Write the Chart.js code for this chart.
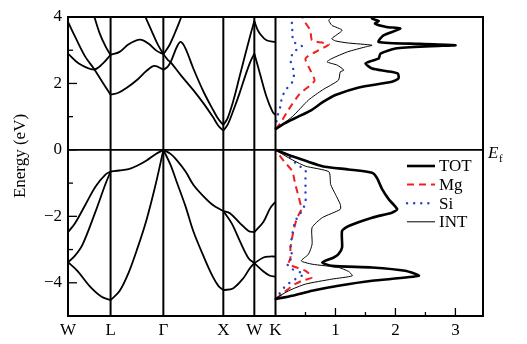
<!DOCTYPE html>
<html lang="en">
<head>
<meta charset="UTF-8">
<title>Mg2Si bands and DOS</title>
<script src="https://cdn.jsdelivr.net/npm/chart.js"></script>
<style>
  body { margin: 0; background: #fff; }
</style>
</head>
<body>
<canvas id="grafico" width="527" height="344"></canvas>
<script>
// high-symmetry points on the k path (same units as the DOS axis, K sits at 0)
const kLabels = ['W', 'L', 'Γ', 'X', 'W', 'K'];
const kPos = [-3.46, -2.75, -1.87, -0.87, -0.353, 0];
const yTicks = [4, 2, 0, -2, -4];
const dosTicks = [1, 2, 3];

// bands, one list of [k, E] per segment
const valenceBands = [
  [[-3.46, -2.48], [-3.34, -2.2], [-3.17, -1.65], [-3.0, -1.1], [-2.84, -0.75], [-2.75, -0.65]],
  [[-3.46, -3.38], [-3.35, -3.2], [-3.22, -2.86], [-3.0, -1.85], [-2.84, -1.05], [-2.75, -0.65]],
  [[-3.46, -3.38], [-3.3, -3.65], [-3.1, -4.1], [-2.9, -4.42], [-2.75, -4.52]],
  [[-2.75, -0.65], [-2.6, -0.62], [-2.45, -0.58], [-2.3, -0.47], [-2.15, -0.32], [-2.0, -0.13], [-1.87, 0]],
  [[-2.75, -4.52], [-2.6, -4.25], [-2.45, -3.7], [-2.3, -2.95], [-2.15, -2.1], [-2.0, -1.05], [-1.87, 0]],
  [[-1.87, 0], [-1.75, -0.12], [-1.65, -0.3], [-1.5, -0.65], [-1.37, -1.05], [-1.2, -1.4], [-1.05, -1.65], [-0.87, -1.84]],
  [[-1.87, 0], [-1.75, -0.45], [-1.65, -0.95], [-1.5, -1.7], [-1.37, -2.45], [-1.2, -3.2], [-1.05, -3.8], [-0.95, -4.1], [-0.87, -4.22]],
  [[-0.87, -1.84], [-0.76, -1.91], [-0.59, -2.21], [-0.45, -2.44], [-0.353, -2.48]],
  [[-0.87, -1.84], [-0.73, -2.21], [-0.59, -2.76], [-0.45, -3.26], [-0.353, -3.41]],
  [[-0.87, -4.22], [-0.71, -4.17], [-0.54, -3.87], [-0.43, -3.57], [-0.353, -3.41]],
  [[-0.353, -2.48], [-0.2, -2.16], [-0.09, -1.76], [0, -1.56]],
  [[-0.353, -3.41], [-0.2, -3.66], [-0.1, -3.78], [0, -3.82]],
  [[-0.353, -3.41], [-0.2, -3.24], [-0.1, -3.21], [0, -3.21]]
];

const conductionBands = [
  [[-3.46, 3.85], [-3.34, 3.4], [-3.17, 2.8], [-3.03, 2.45], [-2.89, 2.05], [-2.75, 1.66]],
  [[-3.46, 2.9], [-3.28, 2.6], [-3.03, 2.42], [-2.89, 2.58], [-2.75, 2.86]],
  [[-3.02, 4.0], [-2.93, 3.5], [-2.83, 3.1], [-2.75, 2.86]],
  [[-2.75, 1.66], [-2.62, 1.72], [-2.48, 1.87], [-2.3, 2.12], [-2.15, 2.38], [-2.02, 2.53], [-1.87, 2.41]],
  [[-2.75, 2.86], [-2.6, 2.95], [-2.45, 3.18], [-2.26, 3.32], [-2.12, 3.2], [-1.98, 2.98], [-1.87, 2.88]],
  [[-2.17, 4.0], [-2.07, 3.6], [-1.97, 3.2], [-1.87, 2.88]],
  [[-1.87, 2.88], [-1.77, 3.15], [-1.67, 3.55], [-1.57, 4.0]],
  [[-1.87, 2.41], [-1.8, 2.5], [-1.74, 2.68], [-1.64, 3.12], [-1.58, 3.25], [-1.5, 3.05], [-1.37, 2.45], [-1.2, 1.75], [-1.04, 1.2], [-0.95, 0.92], [-0.87, 0.75]],
  [[-1.87, 2.88], [-1.8, 2.72], [-1.74, 2.62], [-1.58, 2.25], [-1.37, 1.8], [-1.2, 1.4], [-1.04, 0.98], [-0.95, 0.72], [-0.87, 0.58]],
  [[-0.87, 0.75], [-0.8, 0.95], [-0.7, 1.5], [-0.6, 2.2], [-0.5, 2.9], [-0.42, 3.45], [-0.353, 3.88]],
  [[-0.87, 0.58], [-0.8, 0.75], [-0.7, 1.2], [-0.6, 1.7], [-0.5, 2.25], [-0.42, 2.65], [-0.353, 2.9]],
  [[-0.353, 3.88], [-0.3, 3.62], [-0.26, 3.5], [-0.15, 3.3], [0, 3.25]],
  [[-0.353, 2.9], [-0.26, 2.3], [-0.15, 1.6], [-0.05, 1.15], [0, 1.05]]
];

// density of states, [E, states/eV]
const totDos = [
  [-4.49, 0], [-4.39, 0.28], [-4.24, 0.61], [-4.09, 1.05], [-3.94, 1.61], [-3.79, 2.39], [-3.64, 2.16], [-3.54, 1.61],
  [-3.49, 0.94], [-3.39, 0.78], [-3.24, 0.97], [-3.14, 1.05], [-2.94, 1.11], [-2.44, 1.11], [-2.29, 1.22], [-2.04, 1.61],
  [-1.89, 1.94], [-1.79, 2.03], [-1.49, 1.89], [-1.19, 1.78], [-0.84, 1.69], [-0.69, 1.61], [-0.59, 1.22], [-0.49, 0.78],
  [-0.19, 0.28], [0, 0]
];
const totDosCB = [
  [0.62, 0], [0.8, 0.15], [1.0, 0.38], [1.2, 0.6], [1.45, 0.8], [1.65, 1.0], [1.88, 1.39], [2.05, 1.94], [2.15, 2.05],
  [2.3, 2.04], [2.37, 1.86], [2.45, 1.61], [2.6, 1.5], [2.68, 1.6], [2.75, 1.72], [2.9, 1.75], [3.05, 2.0], [3.12, 2.6],
  [3.15, 3.0], [3.19, 2.4], [3.25, 1.72], [3.45, 1.8], [3.65, 2.08], [3.7, 1.85], [3.8, 1.66], [3.88, 1.72], [3.95, 1.61], [4.0, 1.65]
];
const mgDos = [
  [-4.49, 0], [-4.34, 0.11], [-4.09, 0.28], [-3.94, 0.44], [-3.84, 0.61], [-3.64, 0.5], [-3.44, 0.22], [-3.24, 0.25],
  [-2.94, 0.25], [-2.44, 0.3], [-2.04, 0.36], [-1.79, 0.43], [-1.44, 0.39], [-1.04, 0.33], [-0.64, 0.28], [-0.34, 0.14], [0, 0]
];
const mgDosCB = [
  [0.62, 0], [0.8, 0.08], [1.22, 0.22], [1.68, 0.4], [2.08, 0.65], [2.4, 0.58], [2.75, 0.5], [3.0, 0.72], [3.18, 0.89],
  [3.3, 0.61], [3.6, 0.58], [3.9, 0.47], [4.0, 0.45]
];
const siDos = [
  [-4.49, 0], [-4.34, 0.06], [-4.09, 0.17], [-3.89, 0.33], [-3.74, 0.47], [-3.59, 0.28], [-3.42, 0.19], [-3.24, 0.28],
  [-2.94, 0.25], [-2.54, 0.28], [-2.14, 0.33], [-1.84, 0.44], [-1.59, 0.5], [-1.24, 0.5], [-0.84, 0.5], [-0.62, 0.5],
  [-0.44, 0.36], [-0.14, 0.19], [0, 0]
];
const siDosCB = [
  [0.65, 0], [1.0, 0.03], [1.3, 0.08], [1.6, 0.11], [1.85, 0.19], [2.1, 0.3], [2.4, 0.3], [2.7, 0.25], [2.95, 0.3],
  [3.12, 0.44], [3.25, 0.3], [3.5, 0.28], [3.75, 0.28], [4.0, 0.25]
];
const intDos = [
  [-4.47, 0], [-4.24, 0.22], [-4.04, 0.5], [-3.89, 0.94], [-3.79, 1.28], [-3.66, 1.22], [-3.54, 1.05], [-3.44, 0.61],
  [-3.34, 0.43], [-3.14, 0.55], [-2.84, 0.61], [-2.34, 0.61], [-2.04, 0.78], [-1.79, 1.08], [-1.64, 1.08], [-1.34, 1.0],
  [-1.04, 0.92], [-0.66, 0.89], [-0.49, 0.5], [-0.24, 0.22], [0, 0]
];
const intDosCB = [
  [0.62, 0], [1.0, 0.28], [1.5, 0.55], [1.8, 0.78], [2.1, 1.05], [2.35, 1.08], [2.4, 1.14], [2.55, 1.03], [2.65, 0.86],
  [2.75, 0.94], [2.95, 1.2], [3.1, 1.5], [3.15, 1.61], [3.22, 1.2], [3.28, 1.0], [3.35, 0.94], [3.6, 1.11], [3.75, 0.94],
  [3.9, 0.89], [4.0, 0.94]
];

// line styles of the DOS curves, also used for the legend
const dosStyles = {
  TOT: { color: '#000', width: 2.6, dash: [], cap: 'butt' },
  Mg: { color: '#f02020', width: 2, dash: [7, 5], cap: 'butt' },
  Si: { color: '#2545c8', width: 2.4, dash: [0.1, 7], cap: 'round' },
  INT: { color: '#000', width: 1, dash: [], cap: 'butt' }
};

function bandSet(seg) {
  return {
    data: seg.map(p => ({ x: p[0], y: p[1] })),
    showLine: true, borderColor: '#000', borderWidth: 1.8,
    pointRadius: 0, tension: 0.35
  };
}

function dosSet(curve, name) {
  const s = dosStyles[name];
  return {
    data: curve.map(p => ({ x: p[1], y: p[0] })),
    showLine: true, borderColor: s.color, borderWidth: s.width, borderDash: s.dash,
    borderCapStyle: s.cap, pointRadius: 0, tension: 0.2
  };
}

function straight(p1, p2, w) {
  return {
    data: [{ x: p1[0], y: p1[1] }, { x: p2[0], y: p2[1] }],
    showLine: true, borderColor: '#000', borderWidth: w, pointRadius: 0
  };
}

const datasets = [];
valenceBands.forEach(s => datasets.push(bandSet(s)));
conductionBands.forEach(s => datasets.push(bandSet(s)));
// vertical lines at the high-symmetry points
kPos.slice(1).forEach(k => datasets.push(straight([k, -5], [k, 4], 2)));
// Fermi level
datasets.push(straight([kPos[0], 0], [3.46, 0], 1.6));
datasets.push(dosSet(totDos, 'TOT'), dosSet(totDosCB, 'TOT'));
datasets.push(dosSet(intDos, 'INT'), dosSet(intDosCB, 'INT'));
datasets.push(dosSet(siDos, 'Si'), dosSet(siDosCB, 'Si'));
datasets.push(dosSet(mgDos, 'Mg'), dosSet(mgDosCB, 'Mg'));

const serif = "'Liberation Serif', 'DejaVu Serif', serif";

// frame, inward ticks, Ef mark, legend and axis title
const decor = {
  id: 'decor',
  afterDatasetsDraw(chart) {
    const { ctx, chartArea: a, scales: { x, y } } = chart;
    ctx.save();
    ctx.strokeStyle = '#000';
    ctx.lineWidth = 1.3;
    for (let e = -4; e <= 3; e++) {
      const py = y.getPixelForValue(e);
      const len = e % 2 === 0 ? 9 : 5;
      ctx.beginPath(); ctx.moveTo(a.left, py); ctx.lineTo(a.left + len, py); ctx.stroke();
    }
    for (let d = 0.5; d < 3.3; d += 0.5) {
      const px = x.getPixelForValue(d);
      const len = Number.isInteger(d) ? 8 : 4;
      ctx.beginPath(); ctx.moveTo(px, a.bottom); ctx.lineTo(px, a.bottom - len); ctx.stroke();
    }
    ctx.lineWidth = 2;
    ctx.strokeRect(a.left, a.top, a.right - a.left, a.bottom - a.top);

    // Ef
    ctx.fillStyle = '#000';
    ctx.textBaseline = 'alphabetic';
    const y0 = y.getPixelForValue(0);
    ctx.font = 'italic 17px ' + serif;
    ctx.fillText('E', a.right + 5, y0 + 8);
    ctx.font = '11px ' + serif;
    ctx.fillText('f', a.right + 16, y0 + 12);

    // legend
    const names = Object.keys(dosStyles);
    names.forEach((n, i) => {
      const s = dosStyles[n];
      const ly = a.top + 149 + i * 18.6;
      ctx.save();
      ctx.strokeStyle = s.color;
      ctx.lineWidth = s.width;
      ctx.lineCap = s.cap;
      ctx.setLineDash(s.dash);
      ctx.beginPath(); ctx.moveTo(a.right - 76, ly); ctx.lineTo(a.right - 48, ly); ctx.stroke();
      ctx.restore();
      ctx.font = '17px ' + serif;
      ctx.textBaseline = 'middle';
      ctx.fillText(n, a.right - 44, ly + 1);
    });

    // axis title
    ctx.save();
    ctx.translate(21, 156);
    ctx.rotate(-Math.PI / 2);
    ctx.textAlign = 'center';
    ctx.textBaseline = 'middle';
    ctx.font = '17px ' + serif;
    ctx.fillText('Energy (eV)', 0, 0);
    ctx.restore();
    ctx.restore();
  }
};

const xLabel = {};
kPos.forEach((k, i) => { xLabel[k] = kLabels[i]; });
dosTicks.forEach(d => { xLabel[d] = String(d); });

new Chart(document.getElementById('grafico'), {
  type: 'scatter',
  data: { datasets: datasets },
  options: {
    responsive: false,
    animation: false,
    layout: { padding: { top: 17, right: 44, bottom: 0, left: 0 } },
    plugins: { legend: { display: false }, tooltip: { enabled: false } },
    scales: {
      x: {
        type: 'linear', min: -3.46, max: 3.46,
        grid: { display: false, drawTicks: false }, border: { display: false },
        afterBuildTicks: axis => { axis.ticks = kPos.concat(dosTicks).map(v => ({ value: v })); },
        afterFit: axis => { axis.height = 28; },
        ticks: {
          autoSkip: false, maxRotation: 0, padding: 4, color: '#000',
          font: { family: serif, size: 17 },
          callback: v => xLabel[v]
        }
      },
      y: {
        type: 'linear', min: -5, max: 4,
        grid: { display: false, drawTicks: false }, border: { display: false },
        afterBuildTicks: axis => { axis.ticks = yTicks.map(v => ({ value: v })); },
        afterFit: axis => { axis.width = 68; },
        ticks: {
          padding: 6, color: '#000',
          font: { family: serif, size: 17 },
          callback: v => (v < 0 ? '−' + Math.abs(v) : String(v))
        }
      }
    }
  },
  plugins: [decor]
});
</script>
</body>
</html>
